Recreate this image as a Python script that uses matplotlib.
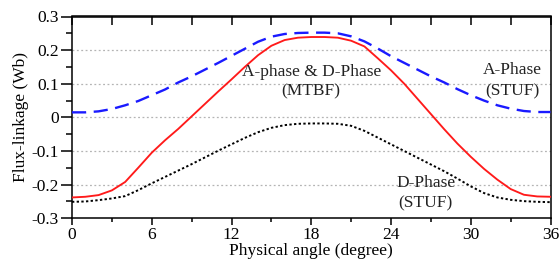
import matplotlib
matplotlib.use("Agg")
import matplotlib.pyplot as plt
from matplotlib.ticker import MultipleLocator, FixedLocator

plt.rcParams['font.family'] = ['Liberation Serif', 'DejaVu Serif']
plt.rcParams['mathtext.fontset'] = 'stix'

angle = list(range(0, 37))

a_phase_stuf = [0.015, 0.015, 0.018, 0.025, 0.036, 0.049, 0.066, 0.083, 0.104, 0.122,
                0.142, 0.162, 0.183, 0.204, 0.225, 0.240, 0.248, 0.251, 0.252, 0.252,
                0.250, 0.241, 0.226, 0.205, 0.182, 0.162, 0.142, 0.122, 0.104, 0.084,
                0.066, 0.050, 0.036, 0.026, 0.019, 0.016, 0.016]

ad_phase_mtbf = [-0.238, -0.236, -0.231, -0.217, -0.192, -0.149, -0.105, -0.068, -0.034, 0.003,
                 0.040, 0.077, 0.113, 0.150, 0.185, 0.213, 0.230, 0.237, 0.239, 0.239,
                 0.237, 0.228, 0.211, 0.176, 0.140, 0.100, 0.055, 0.010, -0.035, -0.078,
                 -0.117, -0.153, -0.185, -0.213, -0.230, -0.235, -0.236]

d_phase_stuf = [-0.251, -0.250, -0.246, -0.241, -0.234, -0.216, -0.196, -0.177, -0.158, -0.139,
                -0.119, -0.099, -0.080, -0.061, -0.044, -0.031, -0.023, -0.019, -0.018, -0.018,
                -0.019, -0.025, -0.040, -0.060, -0.080, -0.100, -0.120, -0.140, -0.160, -0.182,
                -0.205, -0.225, -0.238, -0.245, -0.249, -0.251, -0.252]

xticks = [0, 6, 12, 18, 24, 30, 36]
yticks = [-0.3, -0.2, -0.1, 0, 0.1, 0.2, 0.3]
ytick_labels = ['-0.3', '-0.2', '-0.1', '0', '0.1', '0.2', '0.3']
grid_levels = [-0.2, -0.1, 0, 0.1, 0.2]

FS = 12.5

fig = plt.figure(figsize=(5.6, 2.6), dpi=100)
ax = fig.add_axes([72/560, 1-218.3/260, (550.5-72)/560, (218.3-16.5)/260])

for g in grid_levels:
    ax.axhline(g, color='#b4b4b4', lw=0.9, ls=(0, (1.5, 2)), zorder=0)

ax.plot(angle, a_phase_stuf, color='#1a1aff', lw=1.7, ls=(0, (6, 3.2)), zorder=3)
ax.plot(angle, ad_phase_mtbf, color='#ff1a1a', lw=1.35, zorder=3)
ax.plot(angle, d_phase_stuf, color='black', lw=1.4, ls=(0, (1.2, 1.2)), zorder=3)

ax.set_xlim(0, 36)
ax.set_ylim(-0.3, 0.3)
ax.set_xticks(xticks)
ax.set_xticklabels([str(t) for t in xticks])
ax.xaxis.set_minor_locator(MultipleLocator(3))
ax.set_yticks(yticks)
ax.set_yticklabels(ytick_labels)
ax.yaxis.set_minor_locator(MultipleLocator(0.05))

for s in ax.spines.values():
    s.set_linewidth(1.1)

ax.tick_params(axis='x', which='major', direction='out', length=5, width=1.1,
               labelsize=FS, pad=1.5, top=False)
ax.tick_params(axis='x', which='minor', direction='out', length=3, width=1.1, top=False)
ax.tick_params(axis='y', which='major', direction='out', length=8, width=1.1,
               labelsize=FS, pad=1.5, right=False)
ax.tick_params(axis='y', which='minor', direction='out', length=4, width=1.1, right=False)

# top inward ticks every 3 degrees
sec = ax.secondary_xaxis('top')
sec.xaxis.set_major_locator(FixedLocator(list(range(0, 37, 3))))
sec.tick_params(direction='in', length=6.5, width=1.1, labeltop=False)
sec.spines['top'].set_linewidth(1.1)

ax.set_xlabel('Physical angle (degree)', fontsize=FS, labelpad=0)
ax.set_ylabel('Flux-linkage (Wb)', fontsize=FS, labelpad=2)

tc = '#222222'
ax.text(18.0, 0.135, 'A-phase & D-Phase', fontsize=FS, ha='center', va='center', color=tc)
ax.text(18.0, 0.076, '(MTBF)', fontsize=FS, ha='center', va='center', color=tc)
ax.text(33.1, 0.14, 'A-Phase', fontsize=FS, ha='center', va='center', color=tc)
ax.text(33.1, 0.076, '(STUF)', fontsize=FS, ha='center', va='center', color=tc)
ax.text(26.6, -0.194, 'D-Phase', fontsize=FS, ha='center', va='center', color=tc)
ax.text(26.6, -0.255, '(STUF)', fontsize=FS, ha='center', va='center', color=tc)

fig.savefig('out.png', dpi=100)
